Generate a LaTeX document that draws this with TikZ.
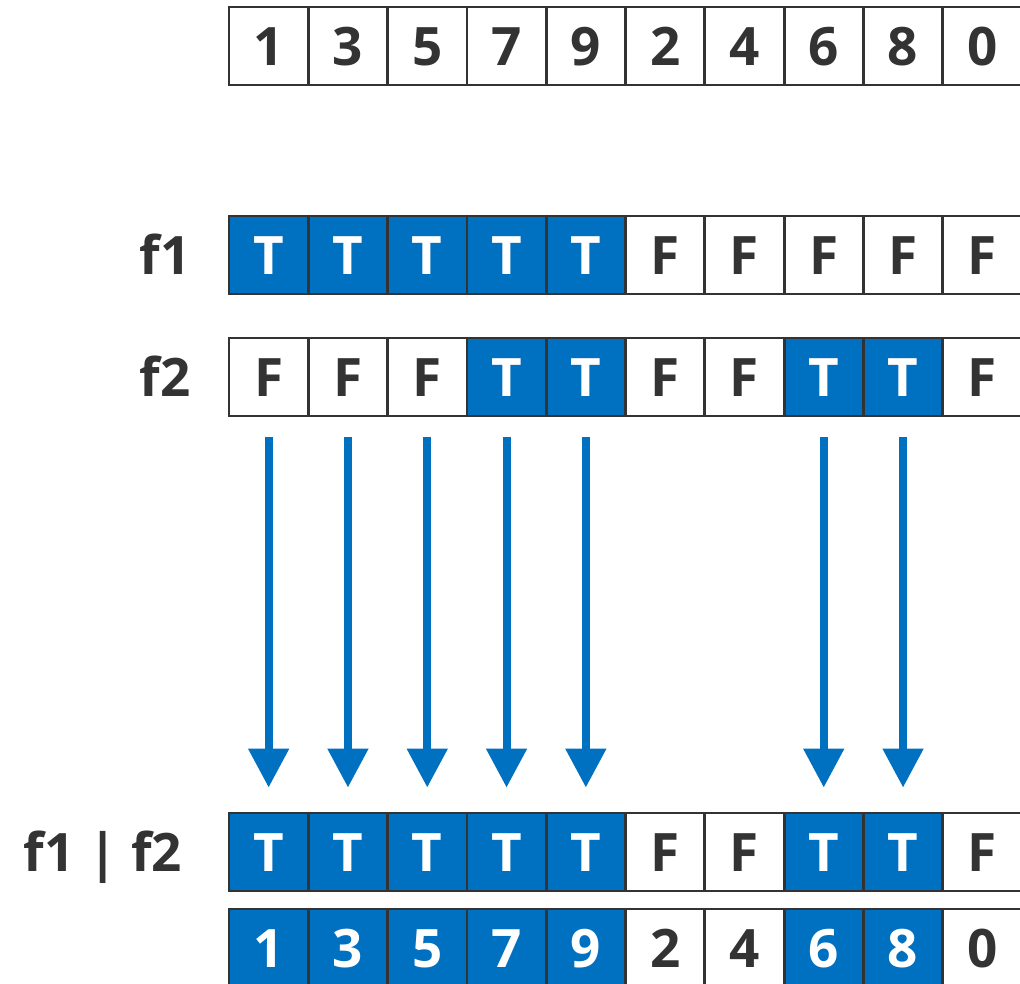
\documentclass[tikz,border=0pt]{standalone}
\usepackage{fontspec}
\newfontfamily\lblfont{Open Sans}
\usetikzlibrary{arrows.meta}
\definecolor{cellblue}{HTML}{0070C0}
\definecolor{ink}{HTML}{333333}
\begin{document}
\begin{tikzpicture}[x=1pt,y=-1pt,
  cellbox/.style={draw=ink,line width=2.8pt,minimum width=79.3pt,minimum height=78pt,
    inner sep=0pt,text height=38pt,text depth=0pt,
    font=\lblfont\bfseries\fontsize{53}{53}\selectfont},
  offcell/.style={cellbox,fill=white,text=ink},
  oncell/.style={cellbox,fill=cellblue,text=white},
  rowlabel/.style={inner sep=0pt,text height=38pt,text depth=0pt,text=ink,
    font=\lblfont\bfseries\fontsize{53}{53}\selectfont},
  flowarrow/.style={draw=cellblue,line width=8pt,-{Triangle[width=39pt,length=39pt]}}]
\useasboundingbox (0,0) rectangle (1020,983);
% top row
\foreach \v [count=\i] in {1,3,5,7,9,2,4,6,8,0}
  \node[offcell] (a\i) at ({268.65+79.3*(\i-1)},46) {\v};
% f1 row
\foreach \v/\s [count=\i] in {T/on,T/on,T/on,T/on,T/on,F/off,F/off,F/off,F/off,F/off}
  \node[\s cell] (b\i) at ({268.65+79.3*(\i-1)},255) {\v};
% f2 row
\foreach \v/\s [count=\i] in {F/off,F/off,F/off,T/on,T/on,F/off,F/off,T/on,T/on,F/off}
  \node[\s cell] (c\i) at ({268.65+79.3*(\i-1)},377) {\v};
% f1|f2 row
\foreach \v/\s [count=\i] in {T/on,T/on,T/on,T/on,T/on,F/off,F/off,T/on,T/on,F/off}
  \node[\s cell] (d\i) at ({268.65+79.3*(\i-1)},852) {\v};
% result row
\foreach \v/\s [count=\i] in {1/on,3/on,5/on,7/on,9/on,2/off,4/off,6/on,8/on,0/off}
  \node[\s cell] (e\i) at ({268.65+79.3*(\i-1)},948) {\v};
% labels
\node[rowlabel] (lf1) at (165,255) {f1};
\node[rowlabel] (lf2) at (165,377) {f2};
\node[rowlabel] (lor) at (103,852) {f1 | f2};
% arrows
\foreach \i in {1,2,3,4,5,8,9}
  \draw[flowarrow] ([yshift=-20pt]c\i.south) -- ([yshift=24pt]d\i.north);
\end{tikzpicture}
\end{document}
